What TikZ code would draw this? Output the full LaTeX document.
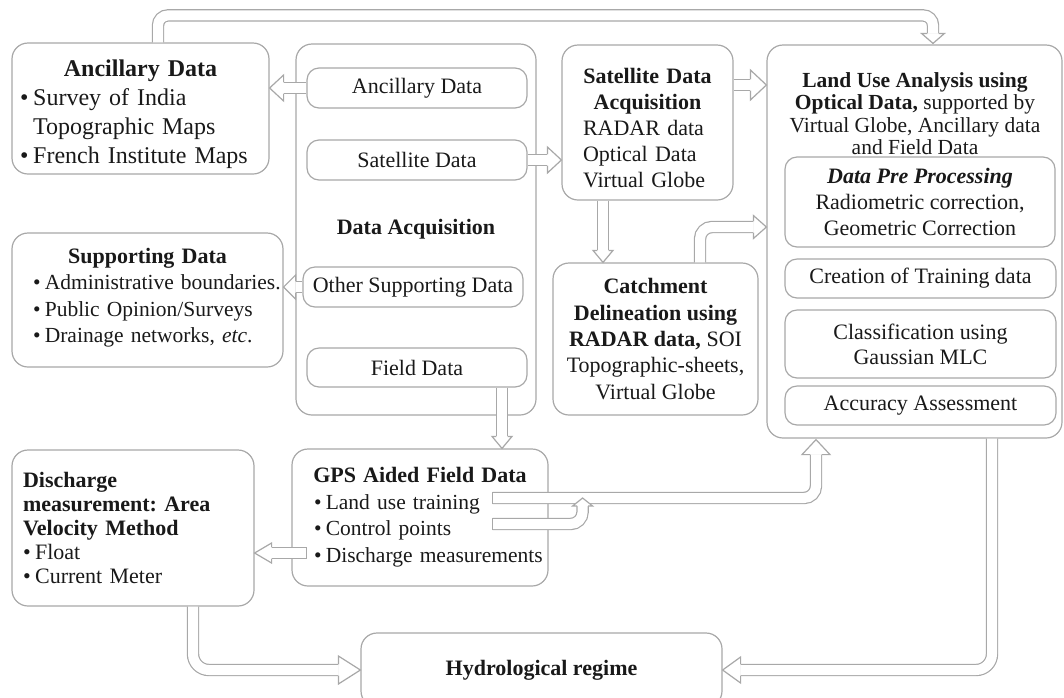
\documentclass[tikz,border=0pt]{standalone}
\usepackage{fontspec}
\setmainfont{Liberation Serif}
\usetikzlibrary{calc}
\frenchspacing

\definecolor{linegray}{gray}{0.66}
\definecolor{inkgray}{gray}{0.1}
\newcommand{\itm}{\makebox[0.55em][l]{\textbullet}}
\newcommand{\itmgap}{\hspace*{0.55em}}
\newcommand{\boxtitle}[1]{\par\centerline{\bfseries #1}\par}

\tikzset{
    bigbox/.style={draw=linegray, line width=0.6pt, rounded corners=8pt, inner sep=0pt},
    smallbox/.style={draw=linegray, line width=0.6pt, rounded corners=6pt, inner sep=0pt},
    databox/.style={smallbox, minimum width=110pt, minimum height=20pt},
    pipe/.style={draw=linegray, line width=0.6pt, double=white, double distance=5pt, rounded corners=6pt},
    headline/.style={draw=linegray, line width=0.6pt, fill=white, line join=miter},
    pics/ahead/.style 2 args={code={
        \draw[headline] (-#1,5.6) -- (-#1,#2) -- (0,0) -- (-#1,-#2) -- (-#1,-5.6);
    }}
}

\begin{document}
\begin{tikzpicture}[x=0.5pt, y=-0.5pt, font=\fontsize{11}{13}\selectfont, text=inkgray]
\useasboundingbox (0,0) rectangle (1064,697);

% left column
\node[bigbox, minimum width=128.5pt, minimum height=65.5pt, text width=120.5pt, align=left, font=\fontsize{12}{14.5}\selectfont] (anc) at (140.5,108.5)
    {\boxtitle{Ancillary Data}\itm Survey of India\\\itmgap Topographic Maps\\\itm \mbox{French Institute Maps}};
\node[bigbox, minimum width=135.5pt, minimum height=67pt, text width=114.5pt, align=left, font=\fontsize{10.75}{13.3}\selectfont] (sup) at (147.5,300)
    {\boxtitle{\fontsize{11}{13.3}\selectfont Supporting Data}\itm \mbox{Administrative boundaries.}\\\itm \mbox{Public Opinion/Surveys}\\\itm \mbox{Drainage networks, \textit{etc}.}\\[-3pt]\mbox{}};

% data acquisition
\node[bigbox, minimum width=120pt, minimum height=185.5pt, font=\fontsize{11}{13}\selectfont\bfseries] (da) at (416,229.5) {Data Acquisition};
\node[databox] (daanc) at (417,88) {Ancillary Data};
\node[databox] (dasat) at (417,160) {Satellite Data};
\node[databox] (daoth) at (413,287) {Other Supporting Data};
\node[databox, minimum height=19.5pt] (dafld) at (417,367.5) {Field Data};

% satellite / catchment
\node[bigbox, minimum width=85.5pt, minimum height=77.5pt, text width=64.5pt, align=left] (satacq) at (647.5,122.5)
    {\boxtitle{Satellite Data}\boxtitle{Acquisition}RADAR data\\Optical Data\\Virtual Globe};
\node[bigbox, minimum width=102.5pt, minimum height=76pt, align=center, font=\fontsize{11}{13.2}\selectfont] (cat) at (655.5,339)
    {\textbf{Catchment}\\\textbf{Delineation using}\\\textbf{RADAR data,} SOI\\Topographic-sheets,\\Virtual Globe};

% land use analysis
\node[bigbox, minimum width=147.5pt, minimum height=196.5pt] (lu) at (914.5,241.5) {};
\node[align=center, font=\fontsize{10.75}{11.2}\selectfont] (lutitle) at (915,113.5)
    {\textbf{Land Use Analysis using}\\\textbf{Optical Data,} supported by\\Virtual Globe, Ancillary data\\and Field Data};
\node[smallbox, minimum width=135pt, minimum height=45pt, align=center] (lupre) at (920,202)
    {\textbf{\textit{Data Pre Processing}}\\Radiometric correction,\\Geometric Correction};
\node[smallbox, minimum width=135.5pt, minimum height=19.5pt] (lutrn) at (920.5,278.5) {Creation of Training data};
\node[smallbox, minimum width=135.5pt, minimum height=34pt, align=center, font=\fontsize{11}{12.5}\selectfont] (lucls) at (920.5,344) {Classification using\\Gaussian MLC};
\node[smallbox, minimum width=135.5pt, minimum height=19.5pt] (luacc) at (920.5,405.5) {Accuracy Assessment};

% bottom row
\node[bigbox, minimum width=121pt, minimum height=78pt, text width=110pt, align=left, font=\fontsize{11}{12}\selectfont] (dis) at (133,528)
    {\textbf{Discharge}\\\textbf{measurement: Area}\\\textbf{Velocity Method}\\\itm Float\\\itm Current Meter};
\node[bigbox, minimum width=128pt, minimum height=68.5pt, text width=106pt, align=left, font=\fontsize{10.75}{13.2}\selectfont] (gps) at (420,517.5)
    {\boxtitle{\fontsize{11}{13.2}\selectfont GPS Aided Field Data}\itm \mbox{Land use training}\\\itm \mbox{Control points}\\\itm \mbox{Discharge measurements}\\[-5pt]\mbox{}};
\node[bigbox, minimum width=180.5pt, minimum height=37pt, font=\fontsize{11}{13}\selectfont\bfseries] (hyd) at (541.5,670) {Hydrological regime};

% arrows
\draw[pipe, rounded corners=5pt] ($(anc.north)+(17.5,0)$) -- ++(0,-27) -| ($(lu.north)+(18.5,-11)$);
\pic[rotate=-90] at ($(lu.north)+(18.5,-1)$) {ahead={10}{11.5}};

\draw[pipe] (daanc.west) -- ($(daanc.west -| anc.east)+(14,0)$);
\pic[rotate=180] at (daanc.west -| anc.east) {ahead={14}{13}};

\draw[pipe] (dasat.east) -- ($(dasat.east -| satacq.west)+(-14,0)$);
\pic at (dasat.east -| satacq.west) {ahead={14}{13}};

\draw[pipe] (daoth.west) -- ($(daoth.west -| sup.east)+(12,0)$);
\pic[rotate=180] at (daoth.west -| sup.east) {ahead={12}{12}};

\coordinate (s5) at ($(satacq.east)+(0,-37.5)$);
\draw[pipe] (s5) -- ($(s5 -| lu.west)+(-16,0)$);
\pic at (s5 -| lu.west) {ahead={16}{15}};

\coordinate (s6) at ($(satacq.south)+(-44.5,0)$);
\draw[pipe] (s6) -- ($(s6 |- cat.north)+(0,-12)$);
\pic[rotate=-90] at (s6 |- cat.north) {ahead={12}{10}};

\coordinate (s7) at ($(cat.north)+(44.5,0)$);
\coordinate (t7) at ($(lu.west |- lupre.west)+(0,25)$);
\draw[pipe] (s7) |- ($(t7)+(-13,0)$);
\pic at (t7) {ahead={13}{11.5}};

\coordinate (s8) at ($(dafld.south)+(85,0)$);
\draw[pipe] (s8) -- ($(s8 |- gps.north)+(0,-12)$);
\pic[rotate=-90] at (s8 |- gps.north) {ahead={12}{10}};

\coordinate (s9) at ($(gps.west)+(15,35.5)$);
\draw[pipe] (s9) -- ($(s9 -| dis.east)+(17,0)$);
\draw[headline] ($(s9)+(0,-5.6)$) -- ($(s9)+(0,5.6)$);
\pic[rotate=180] at (s9 -| dis.east) {ahead={17}{10}};

\coordinate (s10) at ($(gps.east)+(-56,-19.5)$);
\coordinate (t10) at ($(lu.south)+(-98.5,1)$);
\draw[pipe] (s10) -| ($(t10)+(0,15)$);
\draw[headline] ($(s10)+(0,-5.6)$) -- ($(s10)+(0,5.6)$);
\pic[rotate=90] at (t10) {ahead={15}{14}};

\coordinate (s11) at ($(gps.east)+(-56,6.5)$);
\coordinate (t11) at ($(s10)+(90,0)$);
\draw[pipe] (s11) -| ($(t11)+(0,8)$);
\draw[headline] ($(s11)+(0,-5.6)$) -- ($(s11)+(0,5.6)$);
\pic[rotate=90] at (t11) {ahead={8}{10}};

\coordinate (s12) at ($(dis.south)+(60,0)$);
\draw[pipe, rounded corners=8pt] (s12) |- ($(hyd.west)+(-22,0)$);
\pic at (hyd.west) {ahead={22}{14}};

\coordinate (s13) at ($(lu.south)+(77.5,0)$);
\draw[pipe, rounded corners=8pt] (s13) |- ($(hyd.east)+(18,0)$);
\pic[rotate=180] at (hyd.east) {ahead={18}{13}};

\end{tikzpicture}
\end{document}
